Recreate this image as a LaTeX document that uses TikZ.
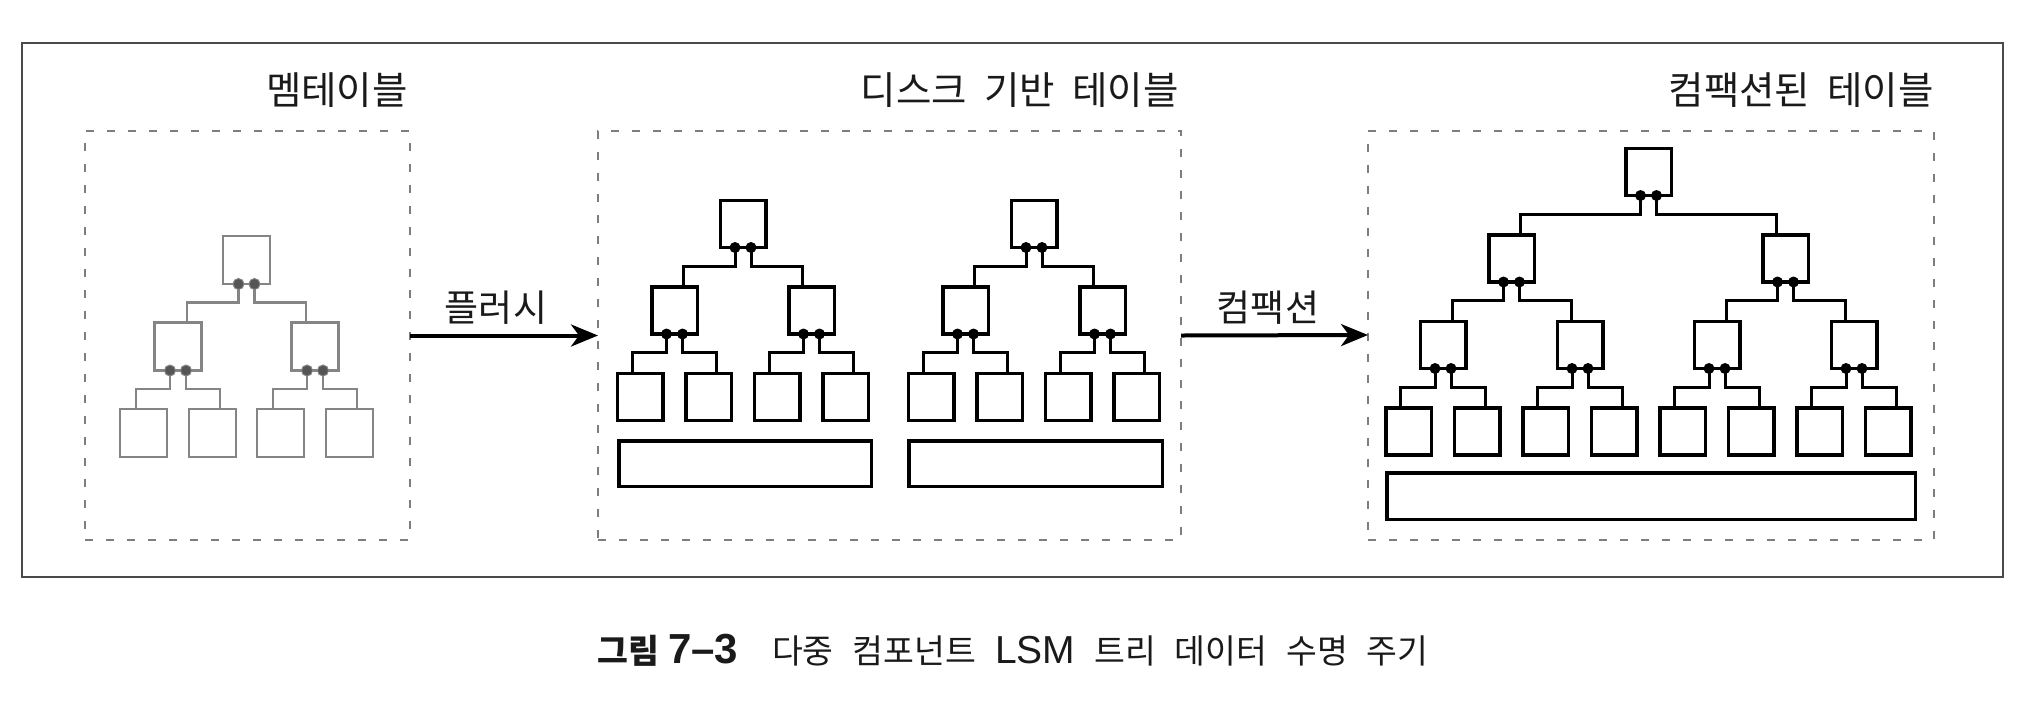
\documentclass[tikz,border=0pt]{standalone}
\usepackage{fontspec}
\setmainfont{Noto Sans CJK KR}[WordSpace=2]
\newfontfamily\latinfont{Liberation Sans}
\usetikzlibrary{arrows.meta,calc}
\definecolor{treegray}{HTML}{858585}
\definecolor{dotgray}{HTML}{555555}
\definecolor{dashgray}{HTML}{7E7E7E}
\definecolor{framegray}{HTML}{4A4A4A}
\definecolor{inkblack}{HTML}{1A1A1A}
\tikzset{
  boxk/.style={draw=black, line width=3.5pt, fill=white, minimum width=45.5pt, minimum height=47pt, inner sep=0pt, outer sep=0pt},
  boxg/.style={draw=treegray, line width=2.2pt, fill=white, minimum width=47pt, minimum height=48pt, inner sep=0pt, outer sep=0pt},
  connk/.style={draw=black, line width=3pt},
  conng/.style={draw=treegray, line width=2.2pt},
  dotk/.style={fill=black},
  dotg/.style={fill=dotgray, draw=treegray, line width=1pt},
  dbox/.style={draw=dashgray, line width=2pt, dash pattern=on 8pt off 13pt, inner sep=0pt, outer sep=0pt},
  outerframe/.style={draw=framegray, line width=1.8pt},
  flow/.style={draw=black, line width=4pt, -{Stealth[length=27pt,width=22pt,inset=8pt]}},
  titletext/.style={anchor=base east, inner sep=0pt, text=inkblack, font=\fontsize{38.5}{42}\selectfont},
  lbltext/.style={anchor=base, inner sep=0pt, text=inkblack, font=\fontsize{37}{40}\selectfont},
}
% #1 prefix, #2 centre x, #3 top y, #4 number of levels, #5 style suffix (k or g)
\newcommand\lsmtree[5]{%
  \pgfmathtruncatemacro\lastlev{#4-1}%
  \foreach \k in {0,...,\lastlev}{%
    \pgfmathtruncatemacro\cnt{2^\k-1}%
    \foreach \j in {0,...,\cnt}{%
      \pgfmathsetmacro\xx{#2+(\j+0.5)*68.5*2^(\lastlev-\k)-68.5*2^\lastlev/2}%
      \pgfmathsetmacro\yy{#3+\k*86.5+25}%
      \node[box#5] (#1-\k-\j) at (\xx,\yy) {};
    }%
  }%
  \pgfmathtruncatemacro\plev{#4-2}%
  \foreach \k in {0,...,\plev}{%
    \pgfmathtruncatemacro\cnt{2^\k-1}%
    \pgfmathtruncatemacro\kk{\k+1}%
    \ifnum\kk=\lastlev \def\offa{-8}\def\offb{8}\else \def\offa{9}\def\offb{-9}\fi
    \foreach \j in {0,...,\cnt}{%
      \pgfmathtruncatemacro\ca{2*\j}%
      \pgfmathtruncatemacro\cb{2*\j+1}%
      \draw[conn#5] ([xshift=-8pt]#1-\k-\j.south) -- ++(0,18.5) -| ([xshift=\offa pt]#1-\kk-\ca.north);
      \draw[conn#5] ([xshift=8pt]#1-\k-\j.south) -- ++(0,18.5) -| ([xshift=\offb pt]#1-\kk-\cb.north);
      \path[dot#5] ([xshift=-8pt]#1-\k-\j.south) circle (5.5pt) ([xshift=8pt]#1-\k-\j.south) circle (5.5pt);
    }%
  }%
}
\begin{document}
\begin{tikzpicture}[x=1pt,y=-1pt]
\fill[white] (0,0) rectangle (2028,716);
\useasboundingbox (0,0) rectangle (2028,716);
\draw[outerframe] (22,43) rectangle (2003,577);

% dashed containers
\node[dbox, minimum width=325pt, minimum height=409pt] (memtbl) at (247.5,335.5) {};
\node[dbox, minimum width=583pt, minimum height=409pt] (disktbl) at (889.5,335.5) {};
\node[dbox, minimum width=566pt, minimum height=409pt] (comptbl) at (1651,335) {};

% titles
\node[titletext] (tmem) at (408,104) {멤테이블};
\node[titletext] (tdisk) at (1179,104) {디스크 기반 테이블};
\node[titletext] (tcomp) at (1934,104) {컴팩션된 테이블};

% trees
\lsmtree{M}{246.5}{235}{3}{g}
\lsmtree{A}{743}{199}{3}{k}
\lsmtree{B}{1034}{199}{3}{k}
\lsmtree{C}{1648.5}{147}{4}{k}

% bars
\node[boxk, minimum width=252.5pt, minimum height=45.5pt] (A-bar) at (745,463.5) {};
\node[boxk, minimum width=253.5pt, minimum height=45.5pt] (B-bar) at (1035.5,463.5) {};
\node[boxk, minimum width=528.5pt, minimum height=46.5pt] (C-bar) at (1651,496) {};

% arrows
\draw[flow] (memtbl.east) -- (disktbl.west);
\draw[flow] (disktbl.east) -- (comptbl.west);
\node[lbltext] (lflush) at (496,321) {플러시};
\node[lbltext] (lcompact) at (1268,321) {컴팩션};

% caption
\node[anchor=base, inner sep=0pt, text=inkblack, font=\fontsize{33.5}{36}\selectfont] (caption) at (1013,663)
  {{\bfseries 그림\hspace{9pt}{\latinfont\fontsize{42}{42}\selectfont 7–3}}\hspace{34pt}다중\hspace{19pt}컴포넌트\hspace{19pt}{\latinfont\fontsize{39}{39}\selectfont LSM}\hspace{19pt}트리\hspace{19pt}데이터\hspace{19pt}수명\hspace{19pt}주기};
\end{tikzpicture}
\end{document}
